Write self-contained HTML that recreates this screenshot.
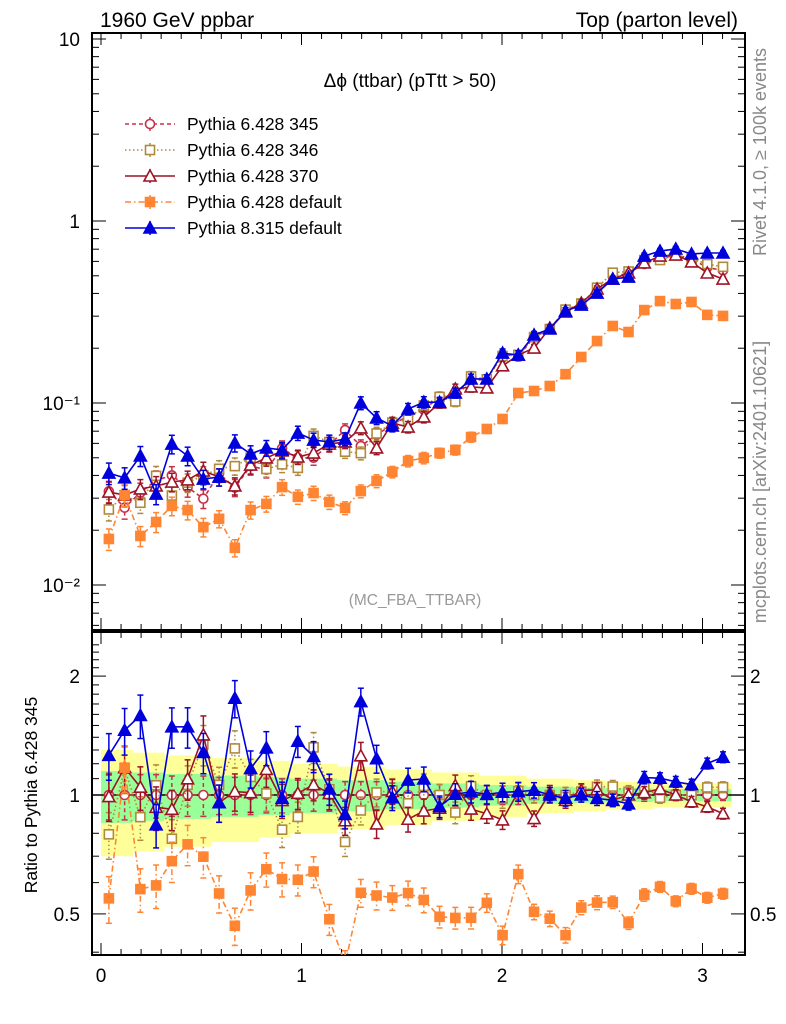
<!DOCTYPE html>
<html><head><meta charset="utf-8"><style>
body{margin:0;background:#fff;}
svg{display:block;font-family:"Liberation Sans",sans-serif;}
</style></head><body>
<svg id="chart" width="786" height="1024" viewBox="0 0 786 1024">
<defs>
<clipPath id="cm"><rect x="92" y="33" width="653" height="597"/></clipPath>
<clipPath id="cr"><rect x="92" y="632" width="653" height="323"/></clipPath>
</defs>
<text x="100" y="27" font-size="21">1960 GeV ppbar</text>
<text x="738" y="27" font-size="21" text-anchor="end">Top (parton level)</text>
<text x="410" y="87" font-size="19" text-anchor="middle">Δϕ (ttbar) (pTtt &gt; 50)</text>
<text x="415" y="605" font-size="15.5" fill="#999" text-anchor="middle">(MC_FBA_TTBAR)</text>
<text transform="translate(766,152) rotate(-90)" font-size="18" fill="#888" text-anchor="middle">Rivet 4.1.0, ≥ 100k events</text>
<text transform="translate(766,482) rotate(-90)" font-size="18" fill="#888" text-anchor="middle">mcplots.cern.ch [arXiv:2401.10621]</text>
<text transform="translate(37,795) rotate(-90)" font-size="17.5" text-anchor="middle">Ratio to Pythia 6.428 345</text>
<g id="bands" clip-path="url(#cr)"></g>
<g id="axes"></g>
<g id="mainmarks" clip-path="url(#cm)"></g>
<g id="ratiomarks" clip-path="url(#cr)"></g>
<g id="legend"></g>
</svg>
<script>
const categories = [];
for (let k = 0; k < 40; k++) categories.push((k + 0.5) * Math.PI / 40);
const p345 = [0.0327,0.0266,0.0322,0.0376,0.040,0.0344,0.0298,0.041,0.0343,0.045,0.043,0.0563,0.050,0.050,0.059,0.071,0.058,0.067,0.076,0.085,0.092,0.108,0.113,0.133,0.135,0.185,0.18,0.23,0.255,0.326,0.345,0.41,0.495,0.518,0.58,0.62,0.65,0.62,0.555,0.535];
const p346 = [0.026,0.031,0.0283,0.0398,0.031,0.0365,0.040,0.0435,0.045,0.050,0.0434,0.046,0.044,0.066,0.061,0.054,0.053,0.068,0.078,0.081,0.097,0.108,0.102,0.14,0.135,0.181,0.184,0.23,0.255,0.326,0.352,0.43,0.52,0.528,0.61,0.61,0.65,0.62,0.58,0.56];
const p370 = [0.0324,0.0312,0.0337,0.035,0.0368,0.0378,0.0423,0.0392,0.035,0.0456,0.0499,0.0545,0.0505,0.0531,0.0595,0.0611,0.0729,0.0566,0.0776,0.0738,0.0838,0.1,0.1194,0.1225,0.121,0.16,0.1835,0.2005,0.258,0.316,0.354,0.423,0.48,0.518,0.588,0.642,0.65,0.596,0.518,0.48];
const p6def = [0.0179,0.0312,0.0186,0.0222,0.0272,0.0258,0.0208,0.0231,0.016,0.0258,0.0279,0.0345,0.0305,0.032,0.0286,0.0265,0.0328,0.0373,0.0418,0.048,0.0499,0.0531,0.0552,0.065,0.072,0.0817,0.1135,0.1164,0.124,0.144,0.179,0.219,0.265,0.2455,0.324,0.363,0.35,0.359,0.305,0.301];
const p8def = [0.0412,0.0388,0.0512,0.0316,0.0595,0.0512,0.0382,0.0392,0.0603,0.0525,0.0566,0.0552,0.0684,0.0626,0.0611,0.0634,0.100,0.0828,0.0748,0.0927,0.101,0.101,0.1135,0.1355,0.1355,0.188,0.1835,0.2365,0.255,0.32,0.345,0.402,0.48,0.492,0.642,0.684,0.702,0.659,0.667,0.667];
const relErr = [0.15,0.15,0.14,0.14,0.13,0.13,0.13,0.12,0.12,0.12,0.11,0.11,0.1,0.1,0.1,0.09,0.09,0.09,0.08,0.08,0.08,0.07,0.07,0.07,0.06,0.06,0.06,0.05,0.05,0.05,0.045,0.045,0.04,0.04,0.04,0.035,0.035,0.035,0.035,0.035];
const xTicks = [0,1,2,3];
const yTicks = [10,1,0.1,0.01];
const yTickLabels = ["10","1","10⁻¹","10⁻²"];
const rTicks = [2,1,0.5];
const rTickLabels = ["2","1","0.5"];

const NS = "http://www.w3.org/2000/svg";
const L = 92, R = 745, MT = 33, MB = 630, RT = 632, RB = 955;
const xpx = x => 101 + x * 200.5;
const ypx = v => 221 - 182 * Math.log10(v);
const rpx = r => 795 - 395 * Math.log10(r);
function mk(tag, attrs, parent) {
  const e = document.createElementNS(NS, tag);
  for (const k in attrs) e.setAttribute(k, attrs[k]);
  parent.appendChild(e);
  return e;
}
const axes = document.getElementById('axes');
const bands = document.getElementById('bands');

for (let i = 0; i < categories.length; i++) {
  const x0 = xpx(i * Math.PI / 40), x1 = xpx((i + 1) * Math.PI / 40);
  const e = relErr[i];
  const y = mk('rect', {x: x0, y: rpx(1 + 2 * e), width: x1 - x0 + 0.5, height: rpx(1 - 2 * e) - rpx(1 + 2 * e), fill: '#ffff99'}, bands);
  
  
  const g = mk('rect', {x: x0, y: rpx(1 + e), width: x1 - x0 + 0.5, height: rpx(1 - e) - rpx(1 + e), fill: '#99ff99'}, bands);
  
  
}

for (const [t, b, nm] of [[MT, MB, 'main-frame'], [RT, RB, 'ratio-frame']]) {
  const f = mk('rect', {x: L, y: t, width: R - L, height: b - t, fill: 'none', stroke: '#000', 'stroke-width': 2}, axes);
  
  
}
const one = mk('line', {x1: L, x2: R, y1: rpx(1), y2: rpx(1), stroke: '#000', 'stroke-width': 1.5}, axes);



for (let v = 0; v <= 3.2; v += 0.1) {
  const vv = Math.round(v * 10) / 10;
  const maj = Math.abs(vv - Math.round(vv)) < 1e-6;
  const len = maj ? 12 : 6;
  for (const [t, b] of [[MT, MB], [RT, RB]]) {
    mk('line', {x1: xpx(vv), x2: xpx(vv), y1: b, y2: b - len, stroke: '#000', 'stroke-width': 1}, axes);
    mk('line', {x1: xpx(vv), x2: xpx(vv), y1: t, y2: t + len, stroke: '#000', 'stroke-width': 1}, axes);
  }
}
xTicks.forEach(v => {
  const t = mk('text', {x: xpx(v), y: 982, 'font-size': 19, 'text-anchor': 'middle'}, axes);
  t.textContent = v;
  
  
});
for (let d = -3; d <= 1; d++) {
  for (let m = 1; m <= 9; m++) {
    const v = m * Math.pow(10, d);
    const y = ypx(v);
    if (y < MT || y > MB) continue;
    const len = m === 1 ? 14 : 7;
    mk('line', {x1: L, x2: L + len, y1: y, y2: y, stroke: '#000'}, axes);
    mk('line', {x1: R, x2: R - len, y1: y, y2: y, stroke: '#000'}, axes);
  }
}
yTicks.forEach((v, i) => {
  const t = mk('text', {x: 80, y: ypx(v) + 7, 'font-size': 19, 'text-anchor': 'end'}, axes);
  t.textContent = yTickLabels[i];
  
  
});
for (let v = 0.4; v <= 2.5; v += 0.1) {
  const vv = Math.round(v * 10) / 10;
  const y = rpx(vv);
  if (y < RT || y > RB) continue;
  const maj = (vv === 0.5 || vv === 1 || vv === 2);
  const len = maj ? 14 : 7;
  mk('line', {x1: L, x2: L + len, y1: y, y2: y, stroke: '#000'}, axes);
  mk('line', {x1: R, x2: R - len, y1: y, y2: y, stroke: '#000'}, axes);
}
rTicks.forEach((v, i) => {
  const t = mk('text', {x: 80, y: rpx(v) + 7, 'font-size': 19, 'text-anchor': 'end'}, axes);
  t.textContent = rTickLabels[i];
  
  
  const t2 = mk('text', {x: 750, y: rpx(v) + 7, 'font-size': 19}, axes);
  t2.textContent = rTickLabels[i];
  
  
});

const series = [
  {name: 'Pythia 6.428 345', vals: p345, color: '#c8304a', dash: '4,3', marker: 'circle', fill: false, id: 'p345'},
  {name: 'Pythia 6.428 346', vals: p346, color: '#b08a3a', dash: '1.5,2.5', marker: 'square', fill: false, id: 'p346'},
  {name: 'Pythia 6.428 370', vals: p370, color: '#9c1326', dash: '', marker: 'triangle', fill: false, id: 'p370'},
  {name: 'Pythia 6.428 default', vals: p6def, color: '#ff8533', dash: '6,3,1.5,3', marker: 'square', fill: true, id: 'p6-default'},
  {name: 'Pythia 8.315 default', vals: p8def, color: '#0000dd', dash: '', marker: 'triangle', fill: true, id: 'p8-default'}
];
function marker(s, x, y, parent) {
  const a = {stroke: s.color, 'stroke-width': 1.6, fill: s.fill ? s.color : '#fff'};
  let e;
  if (s.marker === 'circle') e = mk('circle', Object.assign({cx: x, cy: y, r: 4.5}, a), parent);
  else if (s.marker === 'square') e = mk('rect', Object.assign({x: x - 4.5, y: y - 4.5, width: 9, height: 9}, a), parent);
  else e = mk('polygon', Object.assign({points: `${x},${y - 6} ${x - 6},${y + 5} ${x + 6},${y + 5}`}, a), parent);
  return e;
}
function draw(parent, yf, getv, panel) {
  series.forEach(s => {
    const g = mk('g', {}, parent);
    
    
    const pts = categories.map((c, i) => [xpx(c), yf(getv(s, i))]);
    const pl = mk('polyline', {points: pts.map(p => p.join(',')).join(' '), fill: 'none', stroke: s.color, 'stroke-width': 1.6, 'stroke-dasharray': s.dash}, g);
    
    
    categories.forEach((c, i) => {
      const v = getv(s, i), e = relErr[i] * 0.9;
      const x = xpx(c), y1 = yf(v * (1 + e)), y2 = yf(v * (1 - e));
      mk('line', {x1: x, x2: x, y1: y1, y2: y2, stroke: s.color, 'stroke-width': 1.5, 'stroke-dasharray': s.dash}, g);
      mk('line', {x1: x - 3, x2: x + 3, y1: y1, y2: y1, stroke: s.color, 'stroke-width': 1.5}, g);
      mk('line', {x1: x - 3, x2: x + 3, y1: y2, y2: y2, stroke: s.color, 'stroke-width': 1.5}, g);
      const m = marker(s, x, yf(v), g);
      
      
    });
  });
}
draw(document.getElementById('mainmarks'), ypx, (s, i) => s.vals[i], 'main');
draw(document.getElementById('ratiomarks'), rpx, (s, i) => s.vals[i] / p345[i], 'ratio');

const lg = document.getElementById('legend');
series.forEach((s, i) => {
  const y = 124 + i * 26;
  const g = mk('g', {}, lg);
  
  
  mk('line', {x1: 125, x2: 175, y1: y, y2: y, stroke: s.color, 'stroke-width': 1.6, 'stroke-dasharray': s.dash}, g);
  mk('line', {x1: 150, x2: 150, y1: y - 7, y2: y + 7, stroke: s.color, 'stroke-width': 1.5}, g);
  marker(s, 150, y, g);
  const t = mk('text', {x: 187, y: y + 6, 'font-size': 17.5}, g);
  t.textContent = s.name;
});
</script>
</body></html>
